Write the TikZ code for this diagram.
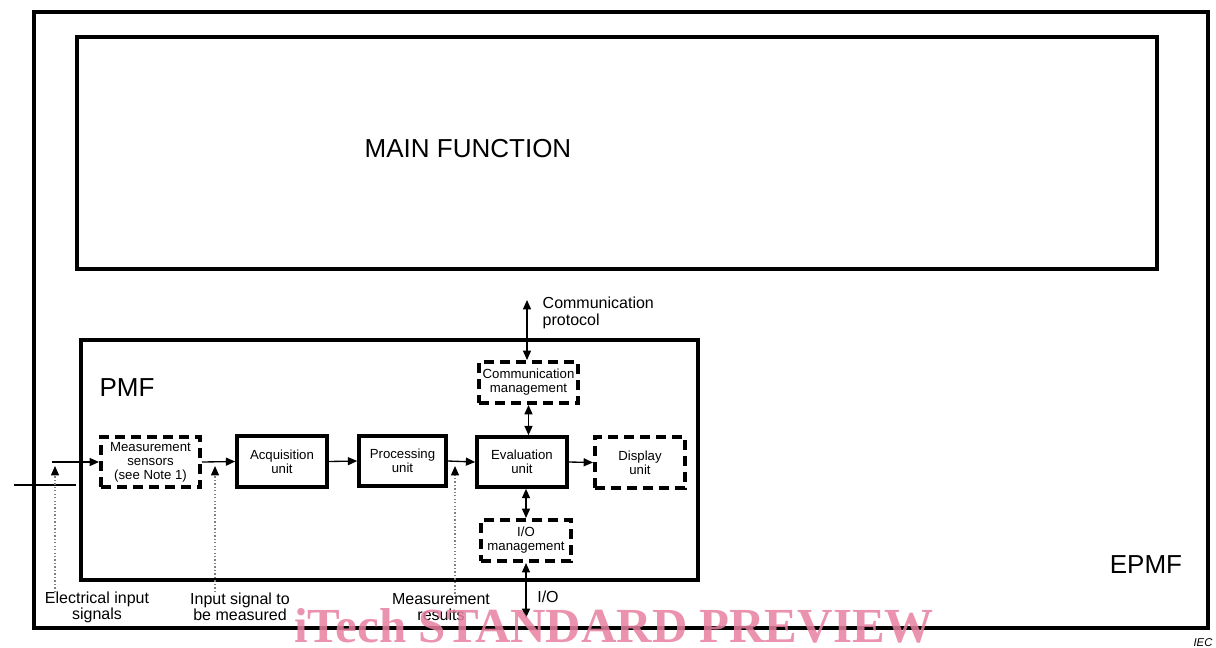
\documentclass[tikz,border=0pt]{standalone}
\usepackage{fontspec}
\setmainfont{Liberation Sans}
\newfontfamily\wmfont{Liberation Serif}
\usetikzlibrary{arrows.meta}
\definecolor{wm}{RGB}{232,128,160}
\begin{document}
\begin{tikzpicture}[x=0.75pt,y=-0.75pt,
  frame/.style={draw, line width=2.5pt, inner sep=0pt},
  boxfont/.style={font=\fontsize{9.9}{10.6}\selectfont},
  unitbox/.style={draw, line width=2.7pt, align=center, inner sep=0pt, boxfont},
  dbox/.style={draw, line width=3pt, dash pattern=on 7.5pt off 4.5pt, align=center, inner sep=0pt, boxfont},
  tip/.tip={Triangle[length=7pt,width=6pt]},
  conn/.style={line width=1pt, -tip},
  dconn/.style={line width=1pt, tip-tip},
  dots/.style={line width=1pt, dash pattern=on 1pt off 1.6pt, gray, -{Triangle[length=7pt,width=6pt,color=black]}},
  lbl/.style={font=\fontsize{12}{12}\selectfont, align=center},
  big/.style={font=\fontsize{19.5}{22}\selectfont}
]
\useasboundingbox (0,0) rectangle (1216,647);

% frames
\node[frame, minimum width=880.5pt, minimum height=462pt] (epmf) at (621,320) {};
\node[frame, minimum width=810pt, minimum height=174pt] (main) at (617,153) {};
\node[frame, minimum width=462.75pt, minimum height=180pt] (pmf) at (389.5,460) {};

\node[big] (mainlbl) at (468,149) {MAIN FUNCTION};
\node[big] (pmflbl) at (127,388) {PMF};
\node[big] (epmflbl) at (1146,565) {EPMF};

% blocks
\node[dbox, minimum width=74.25pt, minimum height=37.5pt] (sens) at (150.5,462) {Measurement\\sensors\\(see Note 1)};
\node[unitbox, minimum width=67.5pt, minimum height=38.25pt] (acq) at (282,461.5) {Acquisition\\unit};
\node[unitbox, minimum width=65.25pt, minimum height=37.5pt] (proc) at (402.5,461) {Processing\\unit};
\node[unitbox, minimum width=67.5pt, minimum height=37.5pt] (eval) at (522,462) {Evaluation\\unit};
\node[dbox, minimum width=67.5pt, minimum height=38.25pt] (disp) at (640,462.5) {Display\\unit};
\node[dbox, minimum width=74.25pt, minimum height=30.75pt] (comm) at (528.5,382.5) {Communication\\management};
\node[dbox, minimum width=67.5pt, minimum height=30.75pt] (io) at (526,540.5) {I/O\\management};

% coordinates
\coordinate (ein) at (52,462);
\coordinate (cp) at (527,300);
\coordinate (iob) at (524,618);
\coordinate (l1) at (14,485);
\coordinate (l2) at (76,485);
\coordinate (d1) at (55,592);
\coordinate (t1) at (55,466);
\coordinate (d2) at (215,592);
\coordinate (t2) at (215,466);
\coordinate (d3) at (455,597);
\coordinate (t3) at (455,466);

% connectors
\draw[conn] (ein) -- (sens.west);
\draw[conn] (sens.east) -- (acq.west);
\draw[conn] (acq.east) -- (proc.west);
\draw[conn] (proc.east) -- (eval.west);
\draw[conn] (eval.east) -- (disp.west);
\draw[dconn] (cp) -- (cp |- comm.north);
\draw[dconn] (comm.south) -- (comm.south |- eval.north);
\draw[dconn] (io.north |- eval.south) -- (io.north);
\draw[dconn] (io.south) -- (io.south |- iob);
\draw[line width=1pt] (l1) -- (l2);
\draw[dots] (d1) -- (t1);
\draw[dots] (d2) -- (t2);
\draw[dots] (d3) -- (t3);

% labels
\node[lbl] (elbl) at (97,607) {Electrical input\\signals};
\node[lbl] (ilbl) at (240,607) {Input signal to\\be measured};
\node[lbl] (mlbl) at (441,607) {Measurement\\results};
\node[lbl, font=\fontsize{12}{12.75}\selectfont, align=left, anchor=west] (cplbl) at (538,313) {Communication\\protocol};
\node[lbl] (iolbl) at (548,597) {I/O};
\node[font=\itshape\fontsize{8.5}{9}\selectfont] (iec) at (1203,643) {IEC};

% watermark
\node[text=wm, opacity=0.85, font=\wmfont\bfseries\fontsize{36.75}{40}\selectfont, anchor=base, inner sep=0pt] (wmk) at (614,642) {iTech STANDARD PREVIEW};
\end{tikzpicture}
\end{document}
